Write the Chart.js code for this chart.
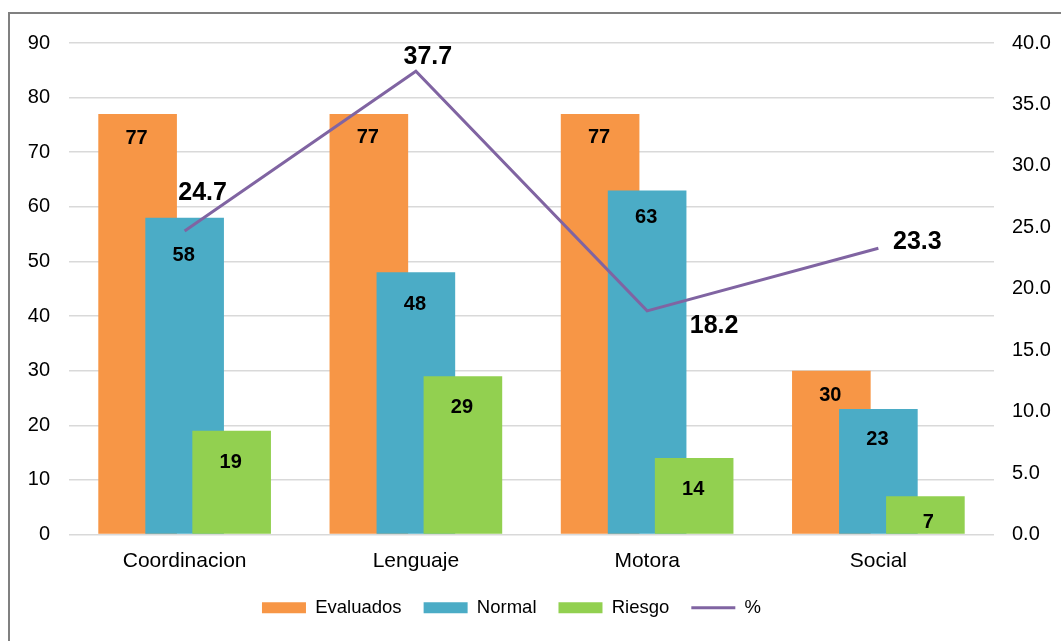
<!DOCTYPE html>
<html>
<head>
<meta charset="utf-8">
<script src="https://cdn.jsdelivr.net/npm/chart.js@4/dist/chart.umd.min.js"></script>
<style>
  html, body { margin: 0; padding: 0; background: #fff; overflow: hidden; }
  #frame { position: absolute; left: 8px; top: 12px; width: 1100px; height: 700px; border: 2px solid #808080; }
  #wrap { position: absolute; left: 0; top: 0; width: 1061px; height: 641px; }
</style>
</head>
<body>
<div id="frame"></div>
<div id="wrap"><canvas id="chart"></canvas></div>
<script>
// Areas evaluated (counts on the left axis, % on the right axis)
const categories = ['Coordinacion', 'Lenguaje', 'Motora', 'Social'];
const evaluados = [77, 77, 77, 30];
const normal = [58, 48, 63, 23];
const riesgo = [19, 29, 14, 7];
const porcentaje = [24.7, 37.7, 18.2, 23.3];

// label placement (px): % labels relative to their point, bar labels below the bar top
const pctLabelOffsets = [[18, -38], [12, -14], [67, 15], [39, -6]];
const barLabelDrop = [[24, 23, 23, 25], [38, 32, 27, 31], [32, 31, 31, 26]];

const FONT = "'Liberation Sans', Arial, sans-serif";

// draw datasets in array order so green sits over blue over orange, line on top
const drawOrderPlugin = {
    id: 'drawOrder',
    afterLayout(chart) {
        // legend in the original sits a little left of centre
        chart.legend.left -= 19;
        chart.legend.right -= 19;
    },
    beforeDatasetsDraw(chart) {
        chart.getSortedVisibleDatasetMetas().forEach(m => m.controller.draw());
        return false;
    }
};

const valueLabels = {
    id: 'valueLabels',
    afterDraw(chart) {
        const ctx = chart.ctx;
        ctx.save();
        ctx.fillStyle = '#000';
        ctx.textAlign = 'center';
        ctx.textBaseline = 'middle';
        chart.data.datasets.forEach((ds, di) => {
            const meta = chart.getDatasetMeta(di);
            meta.data.forEach((el, i) => {
                if (ds.type === 'line') {
                    ctx.font = 'bold 25px ' + FONT;
                    const off = pctLabelOffsets[i];
                    ctx.fillText(ds.data[i].toFixed(1), el.x + off[0], el.y + off[1]);
                } else {
                    ctx.font = 'bold 20px ' + FONT;
                    const dx = (di === 2 && i === 3) ? 3 : -1;
                    ctx.fillText(ds.data[i], el.x + dx, el.y + barLabelDrop[di][i]);
                }
            });
        });
        ctx.restore();
    }
};

const barCommon = {
    type: 'bar',
    borderWidth: 0,
    pointStyle: 'rect',
    categoryPercentage: 0.61,
    barPercentage: 1.672,
    yAxisID: 'y'
};

new Chart(document.getElementById('chart'), {
    data: {
        labels: categories,
        datasets: [
            { ...barCommon, label: 'Evaluados', data: evaluados, backgroundColor: '#F79646' },
            { ...barCommon, label: 'Normal', data: normal, backgroundColor: '#4BACC6' },
            { ...barCommon, label: 'Riesgo', data: riesgo, backgroundColor: '#92D050' },
            {
                type: 'line', label: '%', data: porcentaje, yAxisID: 'y1',
                borderColor: '#8064A2', backgroundColor: '#8064A2',
                borderWidth: 3, pointRadius: 0, pointStyle: 'line', tension: 0
            }
        ]
    },
    options: {
        responsive: true,
        maintainAspectRatio: false,
        animation: false,
        layout: { padding: { top: 43, bottom: 14, left: 0, right: 0 } },
        plugins: {
            legend: {
                position: 'bottom',
                labels: {
                    usePointStyle: true,
                    pointStyleWidth: 44,
                    boxHeight: 11,
                    padding: 22,
                    color: '#000',
                    font: { family: FONT, size: 18.5 }
                }
            },
            tooltip: { enabled: false }
        },
        scales: {
            x: {
                grid: { display: false },
                border: { display: false },
                ticks: { color: '#000', padding: 6, font: { family: FONT, size: 21 } },
                afterFit(scale) { scale.height = 42; }
            },
            y: {
                position: 'left',
                min: 0, max: 90,
                ticks: { stepSize: 10, color: '#000', padding: 19, font: { family: FONT, size: 20 } },
                grid: { color: '#d9d9d9', lineWidth: 1.5, drawTicks: false },
                border: { display: false },
                afterFit(scale) { scale.width = 69; }
            },
            y1: {
                position: 'right',
                min: 0, max: 40,
                ticks: {
                    stepSize: 5, color: '#000', padding: 18,
                    font: { family: FONT, size: 20 },
                    callback: v => v.toFixed(1)
                },
                grid: { display: false, drawTicks: false },
                border: { display: false },
                afterFit(scale) { scale.width = 67; }
            }
        }
    },
    plugins: [drawOrderPlugin, valueLabels]
});
</script>
</body>
</html>
